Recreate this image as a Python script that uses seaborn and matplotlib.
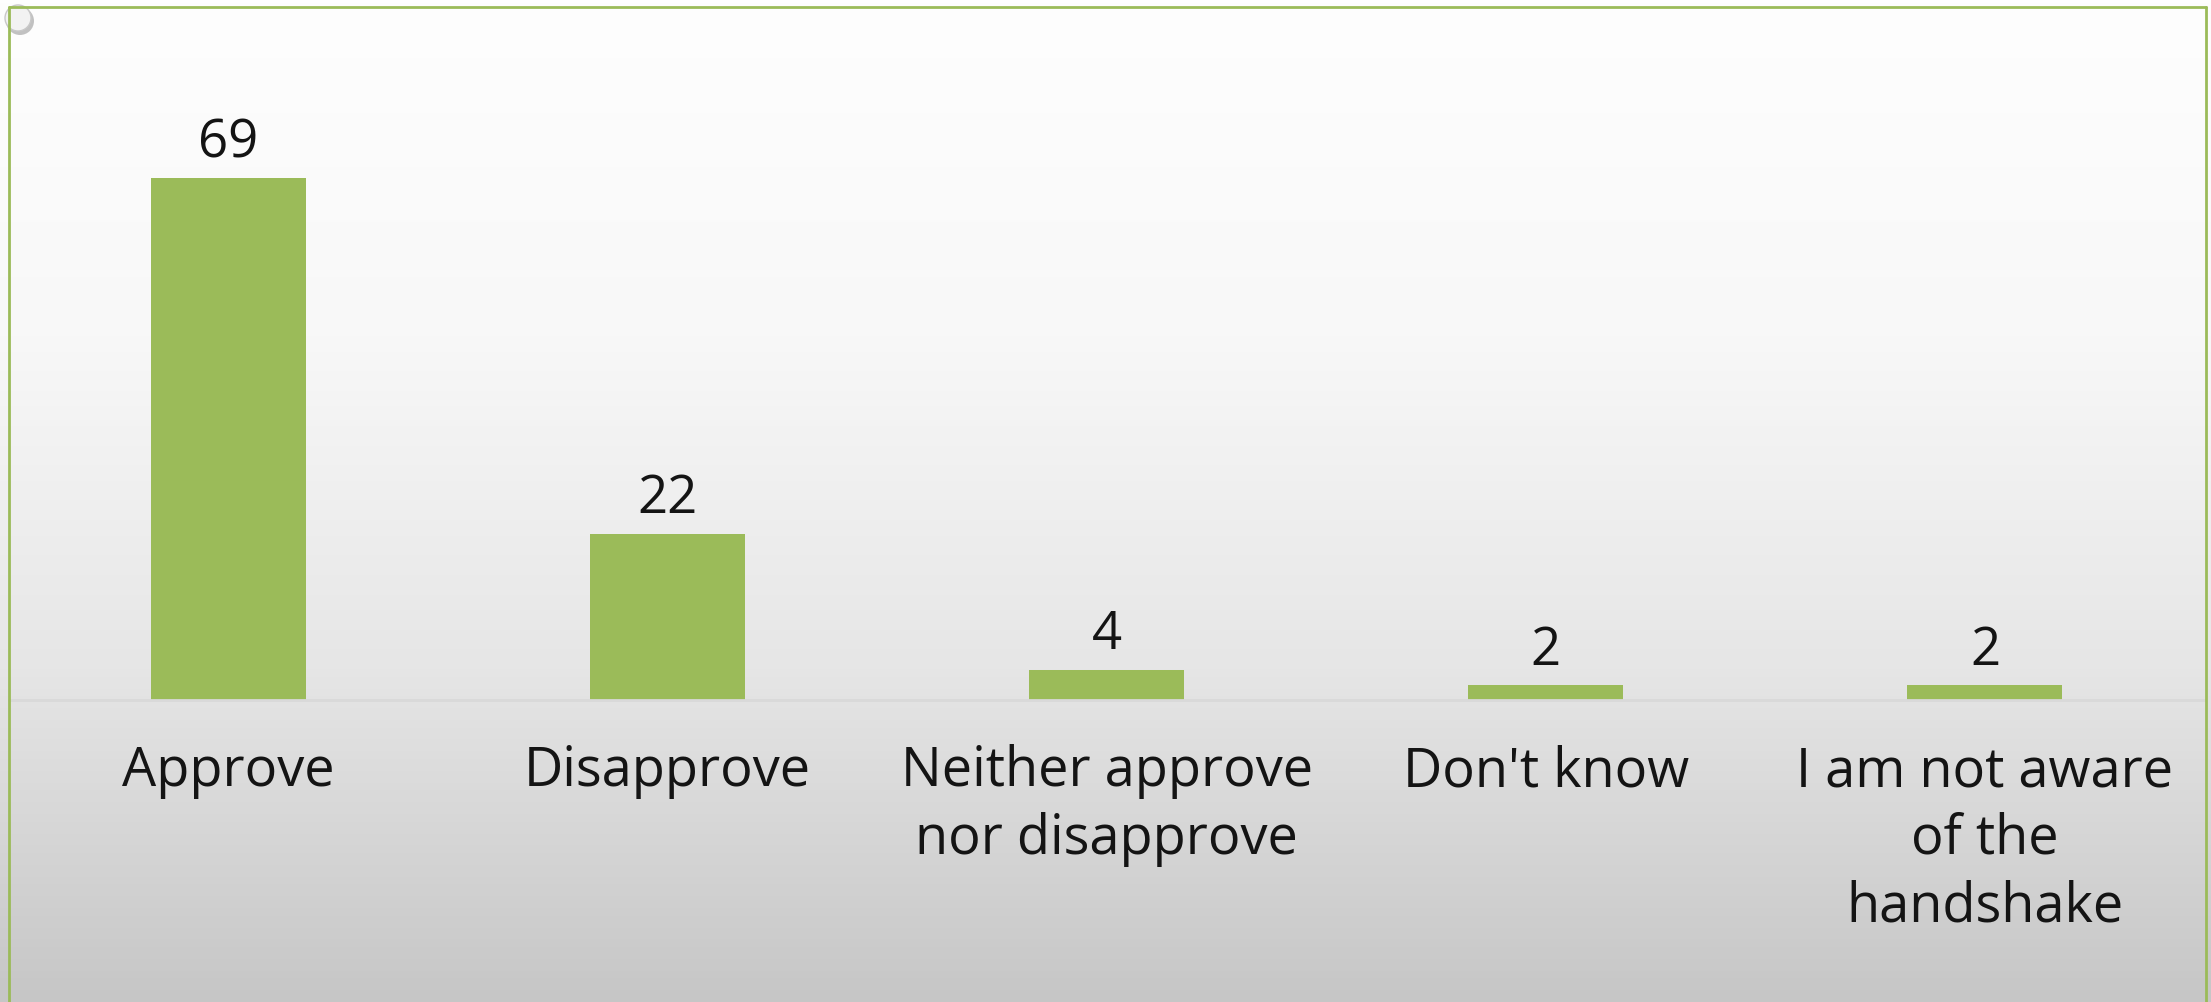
"""Bar chart: approval of the handshake."""
import numpy as np
import pandas as pd
import matplotlib
matplotlib.use("Agg")
import matplotlib.pyplot as plt
from matplotlib.patches import Ellipse
from matplotlib.lines import Line2D
import seaborn as sns

categories = ["Approve", "Disapprove", "Neither approve\nnor disapprove",
              "Don't know", "I am not aware\nof the\nhandshake"]
values = [69, 22, 4, 2, 2]

GREEN = "#9BBB59"

sns.set_theme(style="white")
plt.rcParams["font.family"] = ["Open Sans", "DejaVu Sans"]

W, H = 2211, 1003
fig = plt.figure(figsize=(W / 100, H / 100), dpi=100)

# background gradient (white at top, grey at bottom)
bg = fig.add_axes([0, 0, 1, 1], zorder=-10)
grad = np.linspace(0, 1, 256).reshape(-1, 1)
bg.imshow(grad, aspect="auto", cmap=matplotlib.colors.LinearSegmentedColormap.from_list(
    "bg", ["#fefefe", "#f8f8f8", "#e6e6e6", "#c6c6c6"]), extent=[0, 1, 0, 1])
bg.set_axis_off()

# plot area
left, right = 9 / W, 2204.5 / W
top_px, base_px = 8, 701
ax = fig.add_axes([left, (H - base_px) / H, right - left, (base_px - top_px) / H])
ax.patch.set_alpha(0)

df = pd.DataFrame({"category": categories, "value": values})
sns.barplot(data=df, x="category", y="value", color=GREEN, saturation=1,
            width=0.353, linewidth=0, ax=ax)
ax.set_xlim(-0.5, len(categories) - 0.5)
ax.set_ylim(0, 69 * (base_px - top_px) / (base_px - 179))
ax.bar_label(ax.containers[0], fmt="%d", padding=6, fontsize=38, color="#141414")

ax.set_xlabel("")
ax.set_ylabel("")
ax.set_yticks([])
ax.tick_params(axis="x", length=0, pad=31, labelsize=39, labelcolor="#141414")
for lbl in ax.get_xticklabels():
    lbl.set_linespacing(1.3)
for sp in ["top", "left", "right"]:
    ax.spines[sp].set_visible(False)
ax.spines["bottom"].set_color("#d9d9d9")
ax.spines["bottom"].set_linewidth(2)

# green frame
fx0, fx1, fy = 9 / W, 2206 / W, 1 - 8 / H
for xs, ys in [([fx0, fx1], [fy, fy]), ([fx0, fx0], [0, fy]), ([fx1, fx1], [0, fy])]:
    fig.add_artist(Line2D(xs, ys, color=GREEN, lw=2, transform=fig.transFigure))

# pin at top-left corner
fig.add_artist(Ellipse((20 / W, 1 - 22 / H), 28 / W, 28 / H, transform=fig.transFigure,
                       facecolor="#9a9a9a", edgecolor="none", alpha=0.6))
fig.add_artist(Ellipse((18 / W, 1 - 19 / H), 26 / W, 26 / H, transform=fig.transFigure,
                       facecolor="#f2f2f2", edgecolor="#c8c8c8", lw=1))

fig.savefig("out.png", dpi=100)
